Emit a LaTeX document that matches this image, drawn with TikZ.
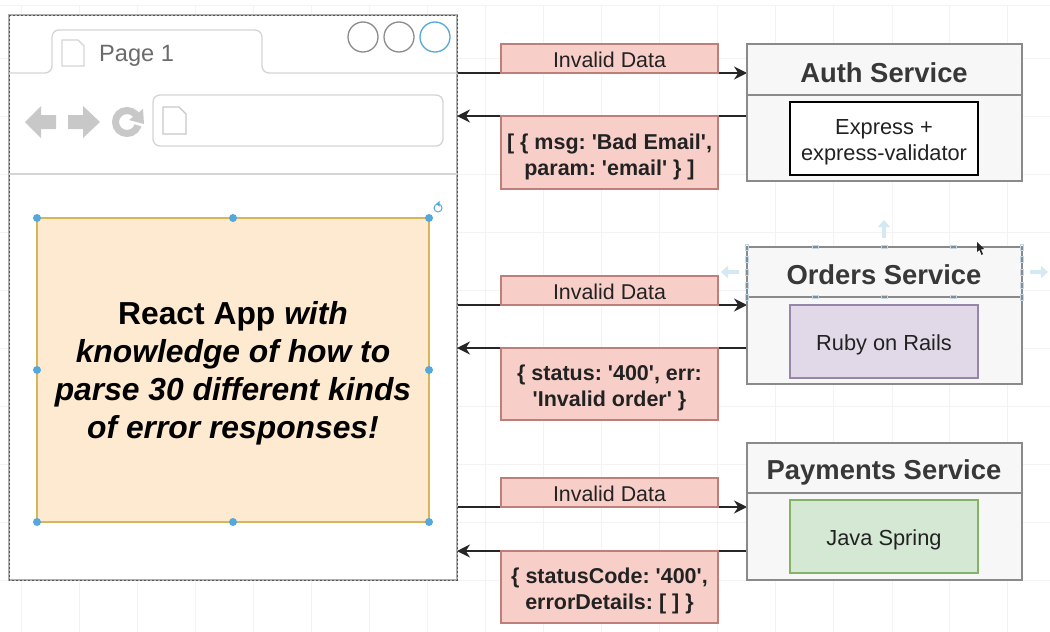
\documentclass[tikz,border=0pt]{standalone}
\usepackage{fontspec}
\setmainfont{Liberation Sans}[Ligatures=TeXOff]
\frenchspacing
\usetikzlibrary{arrows.meta,calc,backgrounds}
\newcommand{\toppad}{\rule{0pt}{23.5pt}}
\definecolor{gridc}{HTML}{F3F3F3}
\definecolor{frameg}{HTML}{8C8C8C}
\definecolor{lineg}{HTML}{D4D4D4}
\definecolor{icong}{HTML}{C8C8C8}
\definecolor{hblue}{HTML}{55A8DC}
\definecolor{lblue}{HTML}{D5E9F5}
\definecolor{selt}{HTML}{C0D8E8}
\definecolor{labfill}{HTML}{F8CFC8}
\definecolor{labline}{HTML}{BE7F7A}
\definecolor{svcfill}{HTML}{F7F7F7}
\definecolor{svcline}{HTML}{8A8A8A}
\definecolor{txt}{HTML}{222222}
\tikzset{
  x=1pt,y=-1pt,
  box/.style={draw,anchor=north west,inner sep=0pt,outer sep=0pt,align=center},
  labelbox/.style={box,fill=labfill,draw=labline,line width=1.4pt,minimum width=217pt,text=txt},
  svc/.style={box,fill=svcfill,draw=svcline,line width=1.3pt,minimum width=275pt,minimum height=137pt},
  inner/.style={box,line width=1.3pt,minimum width=188pt,minimum height=73pt},
  innertext/.style={anchor=center,inner sep=0pt,align=center,text=txt,font=\fontsize{21.8}{26}\selectfont},
  title/.style={anchor=center,inner sep=0pt,text=black!78,font=\bfseries\fontsize{27.4}{32}\selectfont},
  reg/.style={text height=17.5pt,font=\fontsize{21.4}{26}\selectfont},
  bld/.style={font=\bfseries\fontsize{21.5}{26}\selectfont},
  link/.style={draw=black!85,line width=1.6pt,-{Stealth[length=13pt,width=13pt]}},
  gridline/.style={gridc,line width=1pt},
  handle/.style={circle,fill=hblue,inner sep=0pt,minimum size=8pt},
  wincircle/.style={circle,draw=frameg,fill=white,line width=1.3pt,inner sep=0pt,minimum size=30pt},
  chrome/.style={draw=lineg,line width=1.3pt},
  docicon/.style={draw=lineg,fill=white,line width=1.3pt},
  selmark/.style={draw=selt,line width=.8pt},
  selarrow/.style={draw=lblue,line width=4pt,-{Triangle[length=7pt,width=12pt]}},
}
\begin{document}
\begin{tikzpicture}
\useasboundingbox (0,0) rectangle (1050,632);
\begin{pgfonlayer}{background}
\fill[white] (0,0) rectangle (1050,632);
\foreach \gx in {21,79,137,195,253,311,369,427,485,543,601,659,717,775,833,892,949,1007}
  \draw[gridline] (\gx,5) -- (\gx,632);
\foreach \gy in {5,58,116,174,232,290,348,406,464,522,580}
  \draw[gridline] (0,\gy) -- (1050,\gy);
\end{pgfonlayer}

% browser window
\node[box,fill=white,draw=frameg!70,line width=1.3pt,minimum width=448pt,minimum height=565pt] (browser) at (9,15) {};
\draw[frameg!60!black,line width=1pt,dash pattern=on 2pt off 2pt] (browser.north west) rectangle (browser.south east);
\draw[chrome,rounded corners=7pt] (browser.west |- 0,73) -- (52,73) -- (52,30) -- (262,30) -- (262,73) -- (browser.east |- 0,73);
\draw[chrome] (browser.west |- 0,174) -- (browser.east |- 0,174);
\node[anchor=west,inner sep=0pt,text=black!58,font=\fontsize{23.6}{28}\selectfont] (pagelabel) at (99,56) {Page 1};
\draw[docicon] (62,40) -- (78,40) -- (84,46) -- (84,66) -- (62,66) -- cycle;
\node[wincircle] (c1) at (363,37) {};
\node[wincircle] (c2) at (399,37) {};
\node[wincircle,draw=hblue] (c3) at (435,37) {};
\node[box,draw=lineg,line width=1.3pt,rounded corners=7pt,minimum width=290pt,minimum height=51pt] (addr) at (153,95) {};
\draw[docicon,draw=icong] (163,107) -- (179,107) -- (186,114) -- (186,134) -- (163,134) -- cycle;
\fill[icong] (25,122) -- (41,106) -- (41,115) -- (56,115) -- (56,129) -- (41,129) -- (41,138) -- cycle;
\fill[icong] (100,122) -- (83,106) -- (83,115) -- (68,115) -- (68,129) -- (83,129) -- (83,138) -- cycle;
\draw[icong,line width=7pt] (127,122) circle[radius=11.5];
\fill[white] (127,122) -- (147,114) -- (147,128) -- cycle;
\fill[icong] (143,109) -- (144,124) -- (129,120) -- cycle;

% react app box
\node[box,fill={rgb,255:red,253;green,234;blue,208},draw={rgb,255:red,214;green,182;blue,86},line width=1.3pt,minimum width=392pt,minimum height=304pt] (app) at (37,218) {};
\node[anchor=center,inner sep=0pt,align=center,text=black,font=\bfseries\fontsize{31.8}{38}\selectfont] (apptext) at ([yshift=-3pt]app.center) {React App \textit{with}\\\textit{knowledge of how to}\\\textit{parse 30 different kinds}\\\textit{of error responses!}};
\foreach \hp in {north west,north,north east,west,east,south west,south,south east}
  \node[handle] at (app.\hp) {};
\draw[hblue,line width=1pt] (438,208) circle[radius=4];
\fill[hblue] (439.5,201) -- (439.5,206.5) -- (436,204) -- cycle;

% services
\node[svc] (auth) at (747,44) {};
\draw[svcline,line width=1.3pt] (auth.west |- 0,95) -- (auth.east |- 0,95);
\node[title] (authT) at (884,73) {Auth Service};
\node[inner,draw=black,fill=white] (authI) at (790,102) {};
\node[innertext] (authX) at ([yshift=-4pt]authI.center) {Express +\\express-validator};

\node[svc] (orders) at (747,247) {};
\draw[svcline,line width=1.3pt] (orders.west |- 0,297) -- (orders.east |- 0,297);
\node[title] (ordersT) at (884,275) {Orders Service};
\node[inner,draw={rgb,255:red,150;green,135;blue,170},fill={rgb,255:red,225;green,217;blue,232}] (ordersI) at (790,305) {};
\node[innertext] (ordersX) at ([yshift=-3pt]ordersI.center) {Ruby on Rails};

\node[svc] (pay) at (747,443) {};
\draw[svcline,line width=1.3pt] (pay.west |- 0,493) -- (pay.east |- 0,493);
\node[title] (payT) at (884,472) {Payments Service};
\node[inner,draw={rgb,255:red,130;green,179;blue,102},fill={rgb,255:red,213;green,232;blue,212}] (payI) at (790,500) {};
\node[innertext] (payX) at ([yshift=-3pt]payI.center) {Java Spring};

% selection marks around orders
\foreach \mx in {815,884,953} {
  \draw[selmark] (\mx-3,245.5) rectangle (\mx+3,248.5);
  \draw[selmark] (\mx-3,295.5) rectangle (\mx+3,298.5);
}
\foreach \my in {247,259,272,285,297} {
  \draw[selmark] (745.5,\my-3) rectangle (748.5,\my+3);
  \draw[selmark] (1020.5,\my-3) rectangle (1023.5,\my+3);
}
\coordinate (upA) at (884,238);
\coordinate (upB) at (884,220);
\coordinate (lfA) at (739,272);
\coordinate (lfB) at (721,272);
\coordinate (rtA) at (1030,272);
\coordinate (rtB) at (1048,272);
\draw[selarrow] (upA) -- (upB);
\draw[selarrow] (lfA) -- (lfB);
\draw[selarrow] (rtA) -- (rtB);
\fill[black!85] (977,242) -- (977,252) -- (979.5,250) -- (981.5,255) -- (983,254) -- (981,249.5) -- (984,249) -- cycle;

% labels
\node[labelbox,reg,minimum height=29pt] (inv1) at (501,44) {Invalid Data};
\node[labelbox,bld,minimum height=73pt] (err1) at (501,116) {\toppad[ \{ msg: 'Bad Email',\\param: 'email' \} ]};
\node[labelbox,reg,minimum height=29pt] (inv2) at (501,276) {Invalid Data};
\node[labelbox,bld,minimum height=72pt] (err2) at (501,348) {\toppad\{ status: '400', err:\\'Invalid order' \}};
\node[labelbox,reg,minimum height=29pt] (inv3) at (501,478) {Invalid Data};
\node[labelbox,bld,minimum height=72pt] (err3) at (501,551) {\toppad\{ statusCode: '400',\\errorDetails: [ ] \}};

% connectors
\begin{pgfonlayer}{background}
\draw[link] (inv1.south -| browser.east) -- (inv1.south -| auth.west);
\draw[link] (err1.north -| auth.west) -- (err1.north -| browser.east);
\draw[link] (inv2.south -| browser.east) -- (inv2.south -| orders.west);
\draw[link] (err2.north -| orders.west) -- (err2.north -| browser.east);
\draw[link] (inv3.south -| browser.east) -- (inv3.south -| pay.west);
\draw[link] (err3.north -| pay.west) -- (err3.north -| browser.east);
\end{pgfonlayer}
\end{tikzpicture}
\end{document}
